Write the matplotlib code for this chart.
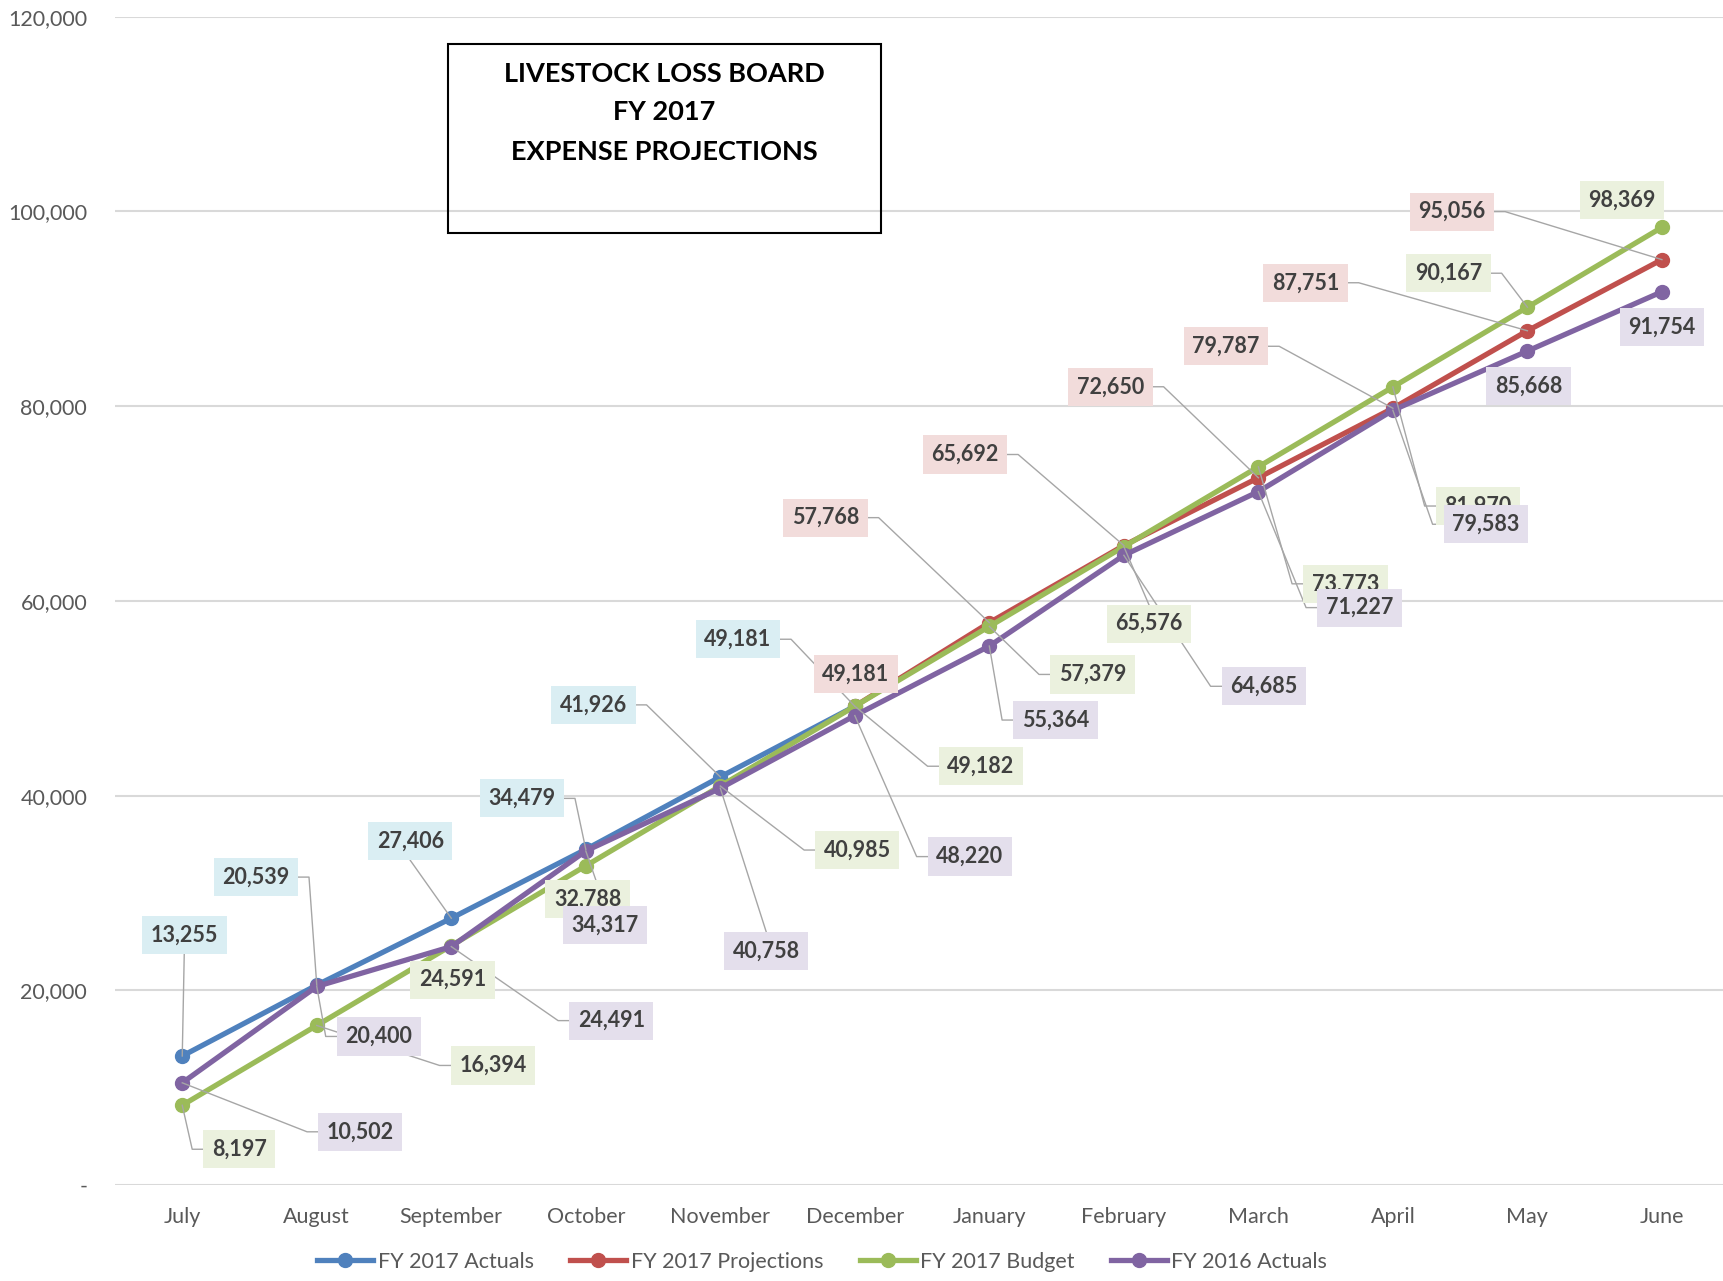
import matplotlib
matplotlib.use("Agg")
import matplotlib.pyplot as plt
import matplotlib.patches as mpatches
from matplotlib.lines import Line2D
from matplotlib.ticker import FuncFormatter, MultipleLocator

plt.rcParams['font.family'] = ['Lato', 'DejaVu Sans']

# Monthly cumulative expenses
months = ['July', 'August', 'September', 'October', 'November', 'December',
          'January', 'February', 'March', 'April', 'May', 'June']
fy17_actuals = [13255, 20539, 27406, 34479, 41926, 49181]
fy17_projections = [49181, 57768, 65692, 72650, 79787, 87751, 95056]
fy17_budget = [8197, 16394, 24591, 32788, 40985, 49182,
               57379, 65576, 73773, 81970, 90167, 98369]
fy16_actuals = [10502, 20400, 24491, 34317, 40758, 48220,
                55364, 64685, 71227, 79583, 85668, 91754]

# where each data label sits, in pixels from its point
actuals_offsets = [(2, 121), (-61, 108), (-41, 77), (-64, 51), (-127, 72), (-117, 67)]
projections_offsets = [(1, 32), (-164, 105), (-159, 91), (-148, 91),
                       (-167, 62), (-222, 48), (-210, 48)]
budget_offsets = [(57, -44), (176, -40), (1, -34), (2, -33), (137, -64), (126, -60),
                  (103, -48), (25, -77), (87, -117), (85, -119), (-79, 34), (-40, 27)]
fy16_offsets = [(178, -49), (62, -50), (160, -74), (19, -74), (46, -163), (115, -141),
                (66, -74), (140, -131), (101, -116), (93, -114), (1, -35), (0, -35)]

series = [
    ('FY 2017 Actuals', list(range(0, 6)), fy17_actuals, '#4F81BD', '#DAEEF3', actuals_offsets),
    ('FY 2017 Projections', list(range(5, 12)), fy17_projections, '#C0504D', '#F2DCDB', projections_offsets),
    ('FY 2017 Budget', list(range(12)), fy17_budget, '#9BBB59', '#EBF1DE', budget_offsets),
    ('FY 2016 Actuals', list(range(12)), fy16_actuals, '#8064A2', '#E4DFEC', fy16_offsets),
]

fig = plt.figure(figsize=(17.24, 12.81), dpi=100)
ax = fig.add_axes([0.0667, 0.0749, 0.9363, 0.912])

ax.set_xlim(-0.5, 11.5)
ax.set_ylim(0, 120000)
ax.yaxis.set_major_locator(MultipleLocator(20000))
ax.yaxis.set_major_formatter(FuncFormatter(lambda v, p: '-' if v == 0 else f'{int(v):,}'))
ax.set_xticks(range(12))
ax.set_xticklabels(months)
ax.tick_params(axis='both', length=0, labelsize=15.5, labelcolor='#595959')
ax.tick_params(axis='x', pad=16)
ax.tick_params(axis='y', pad=20)
ax.grid(axis='y', color='#D9D9D9', linewidth=1.5)
ax.set_axisbelow(True)
for s in ax.spines.values():
    s.set_visible(False)

handles = []
annotations = []
for i, (name, xs, ys, color, light, offsets) in enumerate(series):
    line, = ax.plot(xs, ys, color=color, linewidth=3.8, marker='o', markersize=10,
                    solid_capstyle='round', zorder=3 + i * 0.1, clip_on=False)
    handles.append(line)
    for x, y, off in zip(xs, ys, offsets):
        ann = ax.annotate(f'{y:,}', xy=(x, y), xytext=off, textcoords='offset pixels',
                          ha='center', va='center', fontsize=15.5, fontweight='bold',
                          color='#404040', zorder=10 + i,
                          bbox=dict(boxstyle='square,pad=0.4', fc=light, ec='none'))
        annotations.append((ann, x, y, i))

# leader lines from each label back to its point
fig.canvas.draw()
renderer = fig.canvas.get_renderer()
inv = ax.transData.inverted()
for ann, x, y, i in annotations:
    box = ann.get_bbox_patch().get_window_extent(renderer)
    px, py = ax.transData.transform((x, y))
    if box.x0 - 9 <= px <= box.x1 + 9:
        if py > box.y1:
            gap = py - box.y1
            start = [((box.x0 + box.x1) / 2, box.y1)]
        else:
            gap = box.y0 - py
            start = [((box.x0 + box.x1) / 2, box.y0)]
        if gap < 25:
            continue
        pts = start + [(px, py)]
    else:
        cy = (box.y0 + box.y1) / 2
        if px > box.x1:
            pts = [(box.x1, cy), (box.x1 + 11, cy), (px, py)]
        else:
            pts = [(box.x0, cy), (box.x0 - 11, cy), (px, py)]
    data_pts = inv.transform(pts)
    ax.plot(data_pts[:, 0], data_pts[:, 1], color='#A6A6A6', linewidth=1.0,
            zorder=6 + i * 0.1, clip_on=False)

# title box
fig.patches.append(mpatches.Rectangle((0.2596, 0.8181), 0.2513, 0.1475,
                                      transform=fig.transFigure, fill=False,
                                      edgecolor='black', linewidth=1.5, zorder=20))
for text, yy in zip(['LIVESTOCK LOSS BOARD', 'FY 2017', 'EXPENSE PROJECTIONS'],
                    [0.9422, 0.9126, 0.8813]):
    fig.text(0.3852, yy, text, ha='center', va='center', fontsize=19.5,
             fontweight='bold', color='black')

legend_handles = [Line2D([0], [0], color=h.get_color(), linewidth=3.8, marker='o',
                         markersize=10) for h in handles]
fig.legend(legend_handles, [s[0] for s in series], loc='center',
           bbox_to_anchor=(0.477, 0.015), ncol=4, frameon=False, fontsize=15.5,
           labelcolor='#595959', handlelength=2.6, handletextpad=0.2, columnspacing=1.7)

fig.savefig('out.png', dpi=100)
